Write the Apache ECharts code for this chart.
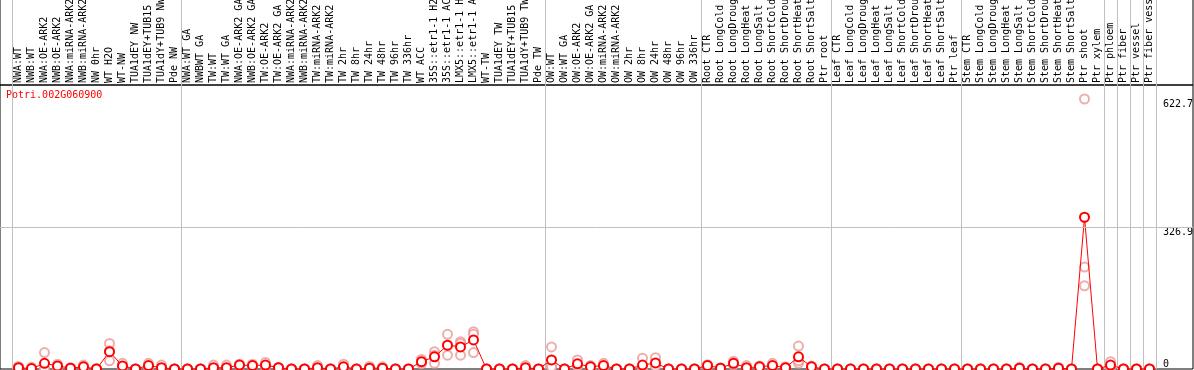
<!DOCTYPE html>
<html><head><meta charset="utf-8">
<script src="https://cdn.jsdelivr.net/npm/echarts@6/dist/echarts.min.js"></script>
<style>html,body{margin:0;padding:0;background:#fff;overflow:hidden}#c{width:1194px;height:370px}</style>
</head><body><div id="c"></div>
<script>
const geneId = 'Potri.002G060900';
const categories = [
  'NWA:WT','NWB:WT','NWA:OE-ARK2','NWB:OE-ARK2','NWA:miRNA-ARK2','NWB:miRNA-ARK2','NW 0hr','WT H2O','WT-NW','TUA1dEY NW','TUA1dEY+TUB15 NW','TUA1dY+TUB9 NW','Pde NW',
  'NWA:WT GA','NWBWT GA','TW:WT','TW:WT GA','NWA:OE-ARK2 GA','NWB:OE-ARK2 GA','TW:OE-ARK2','TW:OE-ARK2 GA','NWA:miRNA-ARK2 GA','NWB:miRNA-ARK2 GA','TW:miRNA-ARK2','TW:miRNA-ARK2 GA',
  'TW 2hr','TW 8hr','TW 24hr','TW 48hr','TW 96hr','TW 336hr','WT ACC','35S::etr1-1 H2O','35S::etr1-1 ACC','LMX5::etr1-1 H2O','LMX5::etr1-1 ACC','WT-TW','TUA1dEY TW','TUA1dEY+TUB15 TW','TUA1dY+TUB9 TW','Pde TW',
  'OW:WT','OW:WT GA','OW:OE-ARK2','OW:OE-ARK2 GA','OW:miRNA-ARK2','OW:miRNA-ARK2 GA','OW 2hr','OW 8hr','OW 24hr','OW 48hr','OW 96hr','OW 336hr',
  'Root CTR','Root LongCold','Root LongDrought','Root LongHeat','Root LongSalt','Root ShortCold','Root ShortDrought','Root ShortHeat','Root ShortSalt','Ptr root',
  'Leaf CTR','Leaf LongCold','Leaf LongDrought','Leaf LongHeat','Leaf LongSalt','Leaf ShortCold','Leaf ShortDrought','Leaf ShortHeat','Leaf ShortSalt','Ptr leaf',
  'Stem CTR','Stem LongCold','Stem LongDrought','Stem LongHeat','Stem LongSalt','Stem ShortCold','Stem ShortDrought','Stem ShortHeat','Stem ShortSalt','Ptr shoot','Ptr xylem',
  'Ptr phloem','Ptr fiber','Ptr vessel','Ptr fiber vessel'
];
// index of first category of each group (separator lines)
const groupStarts = [0, 13, 41, 53, 63, 73, 84, 85, 86, 87];
const meanValues = [
  3,1,13,7,2,5,0,40,7,0,8,3,0,
  0,0,3,3,9,8,9,3,0,0,3,0,5,0,2,2,0,0,17,28,55,51,67,0,0,0,3,0,
  21,0,12,5,8,0,0,9,14,0,0,0,
  8,2,13,3,5,8,3,28,5,0,
  0,0,0,0,0,0,0,0,0,0,
  0,0,0,0,2,0,0,2,0,350,0,
  9,0,0,0
];
const rep1 = [
  6,4,38,11,3,9,1,59,13,0,13,9,0,
  0,0,9,9,11,11,15,4,0,0,8,0,11,0,6,5,0,0,22,40,80,63,86,0,0,0,8,0,
  51,0,21,8,13,0,0,25,26,0,0,0,
  10,3,18,8,7,13,5,53,7,0,
  0,0,0,0,0,0,0,0,0,0,
  0,0,0,0,4,0,0,4,0,622.7,0,
  17,0,0,0
];
const rep2 = [
  2,0,1,6,2,4,0,19,5,0,6,0,0,
  0,0,0,0,9,7,7,3,0,0,1,0,3,0,0,1,0,0,12,13,32,32,80,0,0,0,1,0,
  6,0,8,5,6,0,0,2,11,0,0,0,
  8,2,12,1,5,6,2,13,5,0,
  0,0,0,0,0,0,0,0,0,0,
  0,0,0,0,1,0,0,1,0,235,0,
  6,0,0,0
];
const rep3 = [
  1,0,1,4,1,2,0,42,3,0,4,0,0,
  0,0,0,0,7,6,5,2,0,0,0,0,1,0,0,0,0,0,17,32,54,59,38,0,0,0,0,0,
  5,0,6,3,4,0,0,1,6,0,0,0,
  6,1,9,0,3,5,2,19,3,0,
  0,0,0,0,0,0,0,0,0,0,
  0,0,0,0,1,0,0,1,0,192,0,
  4,0,0,0
];
const yTickValues = [0, 326.9, 622.7];
const yMax = 655;

const FONT = 'DejaVu Sans Mono';
const GREY = '#c0c0c0';
const RED = '#ff0000';
const PALE = '#e99a9a';

const repPoints = [];
[rep1, rep2, rep3].forEach(function (r) {
  r.forEach(function (v, i) { repPoints.push([i, v]); });
});
const sepFn = function (idx) { return groupStarts.indexOf(idx) >= 0; };
const gridBase = {containLabel: false, outerBoundsMode: 'none'};

const chart = echarts.init(document.getElementById('c'), null, {renderer: 'canvas'});
chart.setOption({
  animation: false,
  backgroundColor: '#fff',
  title: {
    text: geneId, left: 6, top: 90, padding: 0,
    textStyle: {color: RED, fontFamily: FONT, fontSize: 10, fontWeight: 'normal'}
  },
  grid: [
    Object.assign({left: 12, top: 0, width: 1144, height: 85}, gridBase),
    Object.assign({left: 12, top: 85, width: 1144, height: 284}, gridBase),
    Object.assign({left: 0, top: 85, width: 1193, height: 284, show: true, borderColor: '#000', borderWidth: 1, backgroundColor: 'transparent'}, gridBase),
    Object.assign({left: 0, top: -5, width: 1193, height: 90, show: true, borderColor: '#000', borderWidth: 1, backgroundColor: 'transparent'}, gridBase)
  ],
  xAxis: [
    {gridIndex: 0, type: 'category', data: categories, boundaryGap: true,
     axisLine: {show: false}, axisTick: {show: false}, axisLabel: {show: false},
     splitLine: {show: true, interval: sepFn, lineStyle: {color: GREY, width: 1}}},
    {gridIndex: 1, type: 'category', data: categories, boundaryGap: true, position: 'top',
     axisLine: {show: false}, axisTick: {show: false},
     axisLabel: {show: true, interval: 0, rotate: 90, margin: 2, fontFamily: FONT, fontSize: 10, color: '#000'},
     splitLine: {show: true, interval: sepFn, lineStyle: {color: GREY, width: 1}}},
    {gridIndex: 2, type: 'value', min: 0, max: 1, show: false},
    {gridIndex: 3, type: 'value', min: 0, max: 1, show: false}
  ],
  yAxis: [
    {gridIndex: 0, type: 'value', show: false},
    {gridIndex: 1, type: 'value', min: 0, max: yMax, show: false},
    {gridIndex: 2, type: 'value', min: 0, max: yMax, position: 'right',
     axisLine: {show: false}, axisTick: {show: false}, splitLine: {show: false},
     axisLabel: {show: true, inside: true, margin: 30, align: 'left', verticalAlign: 'top',
       customValues: yTickValues.filter(function (v) { return v > 0; }),
       formatter: function (v) { return String(v); },
       fontFamily: FONT, fontSize: 10, color: '#000'}},
    {gridIndex: 2, type: 'value', min: 0, max: yMax, position: 'left',
     axisLine: {show: false}, axisTick: {show: false}, splitLine: {show: false},
     axisLabel: {show: true, inside: true, margin: 1163, align: 'left', verticalAlign: 'bottom',
       customValues: yTickValues.filter(function (v) { return v === 0; }),
       formatter: function (v) { return String(v); },
       fontFamily: FONT, fontSize: 10, color: '#000'}},
    {gridIndex: 3, type: 'value', show: false}
  ],
  series: [
    {type: 'line', xAxisIndex: 2, yAxisIndex: 2, data: [], silent: true, z: 1,
     markLine: {silent: true, symbol: 'none', label: {show: false},
       lineStyle: {color: GREY, type: 'solid', width: 1},
       data: [{yAxis: yTickValues[1]}]}},
    {type: 'scatter', xAxisIndex: 1, yAxisIndex: 1, data: repPoints, z: 2,
     symbol: 'emptyCircle', symbolSize: 9,
     itemStyle: {color: PALE, borderColor: PALE, borderWidth: 1.2}},
    {type: 'line', xAxisIndex: 1, yAxisIndex: 1, data: meanValues, z: 3,
     symbol: 'emptyCircle', symbolSize: 9, showAllSymbol: true,
     lineStyle: {color: RED, width: 1},
     itemStyle: {color: RED, borderColor: RED, borderWidth: 1.6}}
  ]
});
</script></body></html>
